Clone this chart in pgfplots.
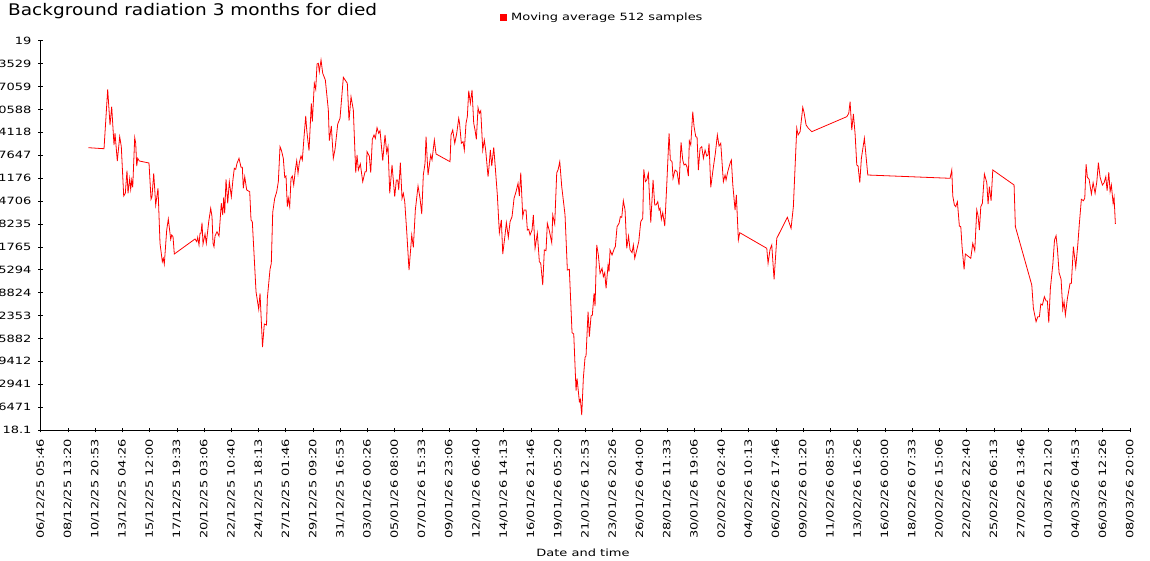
\documentclass[border=0pt]{standalone}
\usepackage{pgfplots}
\pgfplotsset{compat=1.18}
\usepackage{fontspec}
\setmainfont{DejaVu Sans}[FakeStretch=1.3]
\newfontfamily\titlefont{DejaVu Sans}[FakeStretch=1.155]

\begin{document}
\begin{tikzpicture}
\useasboundingbox (0,0) rectangle (1150pt,560pt);
\begin{axis}[
    scale only axis,
    width=1089.3pt, height=389.3pt,
    at={(40.7pt,130pt)}, anchor=south west,
    xmin=0, xmax=40, ymin=18.1, ymax=19.2,
    axis x line*=bottom, axis y line*=left,
    axis line style={black, line width=0.8pt, -},
    every outer x axis line/.append style={-},
    every outer y axis line/.append style={-},
    tick align=center, major tick length=4.5pt,
    tick style={black, line width=0.6pt},
    xtick={0,...,40},
    xticklabels={06/12/25 05:46, 08/12/25 13:20, 10/12/25 20:53, 13/12/25 04:26,
      15/12/25 12:00, 17/12/25 19:33, 20/12/25 03:06, 22/12/25 10:40,
      24/12/25 18:13, 27/12/25 01:46, 29/12/25 09:20, 31/12/25 16:53,
      03/01/26 00:26, 05/01/26 08:00, 07/01/26 15:33, 09/01/26 23:06,
      12/01/26 06:40, 14/01/26 14:13, 16/01/26 21:46, 19/01/26 05:20,
      21/01/26 12:53, 23/01/26 20:26, 26/01/26 04:00, 28/01/26 11:33,
      30/01/26 19:06, 02/02/26 02:40, 04/02/26 10:13, 06/02/26 17:46,
      09/02/26 01:20, 11/02/26 08:53, 13/02/26 16:26, 16/02/26 00:00,
      18/02/26 07:33, 20/02/26 15:06, 22/02/26 22:40, 25/02/26 06:13,
      27/02/26 13:46, 01/03/26 21:20, 04/03/26 04:53, 06/03/26 12:26,
      08/03/26 20:00},
    ytick={18.1,18.164706,18.229412,18.294118,18.358824,18.423529,18.488235,
      18.552941,18.617647,18.682353,18.747059,18.811765,18.876471,18.941176,
      19.005882,19.070588,19.135294,19.2},
    yticklabels={18.1,6471,2941,9412,5882,2353,8824,5294,1765,8235,4706,1176,
      7647,4118,0588,7059,3529,19},
    tick label style={font=\fontsize{10pt}{12pt}\selectfont, black},
    xticklabel style={rotate=90, anchor=east, inner sep=0pt},
    xticklabel shift=6.5pt,
    yticklabel style={anchor=east, inner sep=0pt},
    yticklabel shift=6.8pt,
    xlabel={Date and time},
    xlabel style={font=\fontsize{10pt}{12pt}\selectfont,
      at={(axis description cs:0.4978,-0.3262)}, anchor=base, inner sep=0pt},
    every axis title shift=0pt,
    title={\titlefont Background radiation 3 months for died},
    title style={font=\fontsize{16pt}{19pt}\selectfont,
      at={(axis description cs:-0.0300,1.0642)}, anchor=base west, inner sep=0pt},
    legend style={draw=none, fill=none, inner sep=0pt, outer sep=0pt,
      font=\fontsize{10pt}{12pt}\selectfont,
      at={(axis description cs:0.4219,1.0597)}, anchor=west,
      nodes={inner sep=0pt}, column sep=4.3pt},
    legend image code/.code={\fill[red] (0pt,-2.85pt) rectangle (5.7pt,2.85pt);},
]
\addplot[red, line width=0.8pt] table {
x y
1.748 18.8977
2.325 18.8948
2.460 19.0627
2.545 18.9618
2.607 19.0135
2.692 18.9053
2.729 18.9384
2.813 18.8601
2.901 18.9288
2.960 18.9005
3.048 18.7612
3.107 18.7688
3.169 18.8327
3.206 18.7688
3.268 18.8101
3.305 18.7801
3.342 18.8064
3.379 18.7858
3.452 18.9259
3.489 18.9101
3.526 18.8460
3.562 18.8677
3.621 18.8601
3.977 18.8544
4.051 18.7519
4.087 18.7592
4.150 18.8253
4.223 18.7358
4.308 18.7830
4.381 18.6275
4.466 18.5755
4.502 18.5852
4.539 18.5690
4.627 18.6651
4.686 18.6962
4.774 18.6388
4.811 18.6510
4.859 18.6462
4.906 18.5973
5.667 18.6397
5.729 18.6321
5.766 18.6445
5.813 18.6227
5.850 18.6558
5.887 18.6558
5.924 18.6858
5.960 18.6256
6.034 18.6538
6.082 18.6275
6.170 18.6886
6.243 18.7264
6.291 18.7027
6.328 18.6275
6.364 18.6179
6.401 18.6482
6.474 18.6603
6.548 18.6482
6.632 18.7406
6.684 18.7075
6.720 18.7575
6.757 18.7123
6.805 18.8084
6.867 18.7406
6.926 18.8016
7.000 18.7592
7.062 18.8092
7.110 18.8395
7.161 18.8366
7.209 18.8536
7.282 18.8677
7.356 18.8423
7.404 18.8423
7.440 18.7830
7.492 18.8157
7.565 18.7781
7.675 18.7733
7.723 18.6934
7.771 18.6886
7.907 18.4908
8.006 18.4410
8.054 18.4863
8.145 18.3345
8.211 18.3995
8.292 18.3967
8.322 18.4721
8.421 18.5541
8.468 18.5710
8.520 18.7151
8.593 18.7547
8.667 18.7733
8.726 18.8016
8.788 18.9005
8.836 18.8912
8.909 18.8677
8.961 18.8140
9.008 18.8177
9.056 18.7310
9.093 18.7547
9.144 18.7310
9.192 18.8112
9.240 18.8177
9.291 18.7923
9.350 18.8347
9.401 18.8609
9.449 18.8253
9.497 18.8553
9.559 18.8742
9.607 18.8629
9.669 18.9271
9.732 18.9872
9.769 18.9477
9.853 18.8892
9.937 19.0231
9.974 18.9711
10.048 19.0796
10.099 19.0627
10.147 19.1342
10.195 19.1361
10.231 19.1124
10.294 19.1455
10.356 19.1079
10.452 19.0890
10.562 19.0042
10.599 18.9175
10.672 18.9590
10.745 18.8677
10.808 18.8931
10.907 18.9646
10.991 18.9807
11.113 19.0966
11.259 19.0796
11.322 18.9740
11.395 19.0418
11.480 19.0042
11.568 18.8270
11.616 18.8770
11.664 18.8347
11.737 18.8516
11.825 18.8016
11.910 18.8299
11.957 18.8299
11.983 18.8864
12.067 18.8742
12.119 18.8270
12.178 18.9214
12.240 18.9336
12.288 18.9242
12.350 18.9542
12.413 18.9384
12.461 18.9457
12.560 18.8609
12.644 18.9336
12.706 18.8835
12.754 18.9005
12.817 18.7688
12.901 18.8488
13.000 18.7592
13.059 18.8064
13.110 18.8064
13.147 18.7781
13.206 18.8553
13.268 18.7547
13.316 18.7688
13.368 18.7451
13.441 18.6603
13.525 18.5521
13.625 18.6510
13.684 18.6162
13.757 18.7216
13.856 18.7894
13.929 18.7547
13.992 18.7103
14.050 18.8205
14.113 18.8536
14.150 18.9288
14.223 18.8205
14.322 18.8770
14.370 18.8629
14.455 18.9194
14.517 18.8799
15.031 18.8581
15.068 18.9336
15.130 18.9477
15.204 18.9101
15.277 18.9384
15.350 18.9807
15.380 18.9675
15.446 18.9101
15.509 18.9146
15.556 18.8912
15.618 18.9666
15.666 18.9853
15.718 19.0587
15.777 19.0231
15.839 19.0607
15.901 18.9666
15.949 18.9477
15.997 18.9214
16.059 19.0107
16.107 18.9949
16.159 19.0022
16.232 18.8912
16.290 18.9194
16.342 18.8892
16.427 18.8157
16.463 18.8440
16.511 18.8912
16.563 18.8460
16.636 18.8988
16.695 18.8395
16.768 18.7640
16.842 18.6575
16.915 18.6934
16.967 18.5973
17.051 18.6510
17.099 18.6858
17.172 18.6445
17.235 18.6886
17.308 18.7027
17.382 18.7547
17.455 18.7733
17.528 18.7971
17.576 18.7612
17.628 18.8270
17.701 18.7027
17.749 18.7216
17.822 18.7216
17.870 18.6651
17.921 18.6671
17.969 18.6510
18.042 18.6651
18.090 18.7075
18.153 18.6134
18.237 18.6558
18.311 18.5755
18.362 18.5710
18.435 18.5097
18.494 18.6086
18.556 18.6066
18.604 18.6841
18.677 18.6631
18.766 18.6292
18.802 18.7075
18.875 18.6821
18.949 18.8270
18.997 18.8347
19.060 18.8581
19.133 18.7875
19.254 18.7075
19.339 18.5521
19.412 18.5541
19.511 18.3749
19.574 18.3713
19.658 18.2110
19.695 18.2461
19.780 18.1800
19.817 18.1867
19.867 18.1424
19.926 18.2461
19.989 18.3054
20.025 18.3091
20.099 18.4343
20.147 18.3636
20.209 18.4221
20.257 18.4249
20.319 18.4863
20.356 18.4504
20.418 18.6227
20.477 18.5945
20.540 18.5428
20.613 18.5569
20.661 18.5332
20.712 18.5445
20.760 18.5004
20.834 18.5662
20.870 18.5473
20.907 18.6086
20.980 18.5945
21.065 18.6134
21.101 18.6179
21.164 18.6744
21.238 18.6841
21.285 18.7027
21.337 18.7010
21.395 18.7479
21.458 18.7216
21.520 18.6134
21.586 18.6482
21.641 18.6095
21.715 18.6010
21.763 18.6227
21.814 18.5852
21.887 18.6086
21.961 18.6321
22.034 18.6886
22.108 18.6982
22.145 18.8366
22.203 18.8016
22.255 18.8064
22.314 18.8253
22.402 18.6858
22.486 18.8064
22.548 18.7358
22.596 18.7358
22.659 18.7451
22.707 18.7216
22.743 18.7264
22.791 18.6954
22.842 18.7140
22.916 18.6764
22.989 18.7923
23.074 18.9384
23.121 18.8629
23.184 18.8581
23.220 18.8112
23.294 18.8347
23.367 18.8299
23.441 18.7923
23.514 18.9129
23.576 18.8629
23.624 18.8488
23.687 18.8516
23.734 18.8423
23.782 18.8177
23.819 18.9166
23.871 18.9053
23.944 18.9994
23.992 18.9570
24.054 18.9288
24.102 18.9271
24.150 18.8347
24.212 18.8960
24.275 18.9005
24.334 18.8677
24.396 18.8912
24.458 18.8742
24.506 18.8770
24.542 18.9101
24.605 18.7858
24.700 18.8423
24.774 18.8818
24.847 18.9336
24.910 18.9025
24.972 18.9101
25.068 18.8016
25.130 18.8205
25.167 18.8064
25.229 18.8299
25.314 18.8536
25.361 18.8629
25.413 18.7943
25.497 18.7216
25.545 18.7640
25.619 18.6369
25.670 18.6575
26.662 18.6134
26.709 18.5710
26.783 18.6106
26.845 18.6227
26.930 18.5258
27.029 18.6417
27.418 18.7010
27.554 18.6699
27.638 18.7310
27.763 18.9525
27.811 18.9336
27.885 18.9429
27.984 19.0118
28.032 18.9966
28.106 18.9618
28.189 18.9525
28.314 18.9429
29.600 18.9853
29.673 18.9949
29.721 19.0277
29.783 18.9477
29.842 18.9929
29.904 18.9384
29.967 18.8488
30.015 18.8460
30.077 18.7988
30.136 18.8677
30.246 18.9242
30.371 18.8205
33.393 18.8112
33.455 18.8347
33.492 18.7612
33.551 18.7358
33.602 18.7310
33.661 18.7451
33.734 18.6764
33.786 18.6744
33.833 18.6179
33.907 18.5541
33.954 18.5973
34.153 18.5852
34.226 18.6275
34.300 18.6066
34.373 18.7216
34.421 18.7047
34.469 18.6651
34.521 18.7310
34.579 18.7406
34.653 18.8234
34.741 18.7988
34.788 18.7386
34.836 18.7875
34.899 18.7479
34.961 18.8347
35.743 18.7923
35.791 18.6744
36.393 18.5097
36.452 18.4439
36.551 18.4060
36.614 18.4201
36.672 18.4201
36.724 18.4560
36.783 18.4532
36.856 18.4767
36.919 18.4645
36.966 18.4645
37.017 18.4032
37.076 18.5004
37.164 18.5662
37.228 18.6369
37.285 18.6490
37.333 18.6134
37.396 18.5445
37.469 18.5258
37.531 18.4410
37.579 18.4625
37.627 18.4249
37.701 18.4721
37.799 18.5145
37.847 18.5145
37.921 18.6179
38.008 18.5597
38.082 18.6227
38.141 18.6841
38.214 18.7519
38.288 18.7479
38.339 18.7547
38.387 18.8508
38.435 18.8140
38.498 18.8084
38.582 18.7668
38.645 18.7988
38.718 18.7688
38.781 18.8016
38.839 18.8553
38.902 18.8140
38.986 18.7923
39.049 18.7988
39.111 18.8157
39.159 18.7762
39.221 18.8282
39.269 18.7733
39.316 18.7923
39.379 18.7406
39.415 18.7575
39.463 18.6821
};
\addlegendentry{Moving average 512 samples}
\end{axis}
\end{tikzpicture}
\end{document}
